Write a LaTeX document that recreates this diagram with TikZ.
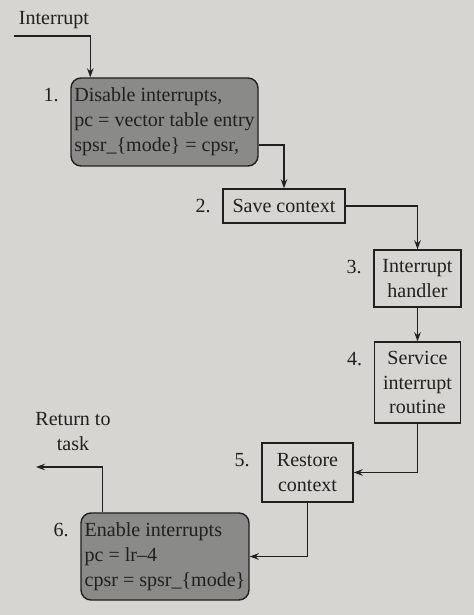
\documentclass[tikz,border=0pt]{standalone}
\usepackage{fontspec}
\setmainfont{Liberation Serif}
\usetikzlibrary{arrows.meta}
\definecolor{paper}{RGB}{214,213,209}
\definecolor{boxgrey}{RGB}{138,138,136}
\definecolor{ink}{RGB}{32,32,32}

\begin{document}
\begin{tikzpicture}[>={Stealth[length=1.8mm,width=1.3mm]}, line width=0.8pt, color=ink,
    every node/.style={font=\fontsize{11.4}{14.2}\selectfont},
    flowbox/.style={draw, inner sep=1.5pt, align=center},
    shadebox/.style={flowbox, rounded corners=2mm, fill=boxgrey, align=left},
    stepno/.style={label={[anchor=north east, inner sep=0pt, xshift=-2.2mm, yshift=-2mm]north west:#1}}]
        \fill[paper] (0,0) rectangle (9.48,12.3);
        \useasboundingbox (0,0) rectangle (9.48,12.3);

        \node (irq-label) at (1.08,11.9) {Interrupt};
        \node[align=center] (ret-label) at (1.46,3.66) {Return to\\task};

        \node[shadebox, minimum width=3.74cm, minimum height=1.76cm, stepno=1.] (disable) at (3.29,9.86)
            {Disable interrupts,\\pc = vector table entry\\spsr\_\{mode\} = cpsr,};
        \node[flowbox, minimum width=2.44cm, minimum height=0.68cm, stepno=2.] (save) at (5.68,8.18) {Save context};
        \node[flowbox, minimum width=1.74cm, minimum height=1.14cm, stepno=3.] (handler) at (8.35,6.73) {Interrupt\\handler};
        \node[flowbox, minimum width=1.72cm, minimum height=1.62cm, stepno=4.] (service) at (8.35,4.65) {Service\\interrupt\\routine};
        \node[flowbox, minimum width=1.82cm, minimum height=1.18cm, stepno=5.] (restore) at (6.15,2.85) {Restore\\context};
        \node[shadebox, minimum width=3.36cm, minimum height=1.74cm, stepno=6.] (enable) at (3.30,1.17)
            {Enable interrupts\\pc = lr--4\\cpsr = spsr\_\{mode\}};

        \coordinate (irq) at (0.28,11.58);
        \coordinate (ret) at (0.72,2.96);

        \draw[->] (irq) -| ([xshift=4mm]disable.north west);
        \draw[->] ([yshift=-4.6mm]disable.east) -| (save.north);
        \draw[->] (save.east) -| (handler.north);
        \draw[->] (handler.south) -- (service.north);
        \draw[->] (service.south) |- (restore.east);
        \draw[->] (restore.south) |- (enable.east);
        \draw[->] ([xshift=4.4mm]enable.north west) |- (ret);
\end{tikzpicture}
\end{document}
